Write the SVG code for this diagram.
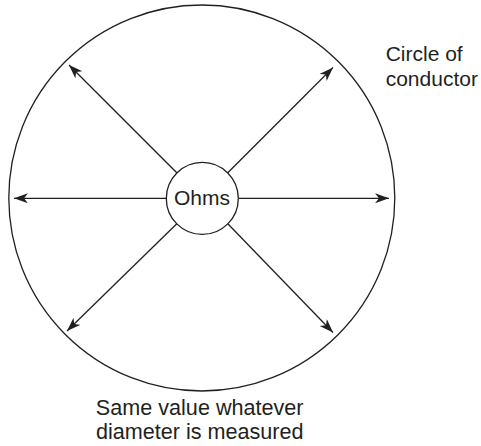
<svg xmlns="http://www.w3.org/2000/svg" width="481" height="446" viewBox="0 0 481 446">
<style>
.ln{stroke:#231f20;stroke-width:1.3;fill:none}
.t{font-family:"Liberation Sans",Arial,sans-serif;fill:#231f20}
</style>
<defs>
<marker id="ah" markerUnits="userSpaceOnUse" markerWidth="16" markerHeight="12" refX="14" refY="5" orient="auto">
<path d="M0,0 L14,5 L0,10 L4,5 z" fill="#231f20"/>
</marker>
</defs>
<rect width="481" height="446" fill="#fff"/>
<g id="conductor">
<circle class="ln" cx="201.8" cy="198" r="193"/>
</g>
<g id="connectors">
<line class="ln" x1="166" y1="198.3" x2="14" y2="198.3" marker-end="url(#ah)"/>
<line class="ln" x1="238.5" y1="198.3" x2="389" y2="198.3" marker-end="url(#ah)"/>
<line class="ln" x1="176.8" y1="172.8" x2="69" y2="65" marker-end="url(#ah)"/>
<line class="ln" x1="227.8" y1="172.8" x2="333" y2="67.5" marker-end="url(#ah)"/>
<line class="ln" x1="176.8" y1="223.8" x2="67" y2="331" marker-end="url(#ah)"/>
<line class="ln" x1="227.8" y1="223.8" x2="333" y2="332.5" marker-end="url(#ah)"/>
</g>
<g id="ohms">
<circle class="ln" cx="202.3" cy="198.4" r="36" fill="#fff"/>
<text class="t" x="202" y="205" font-size="21" text-anchor="middle">Ohms</text>
</g>
<g id="label-circle">
<text class="t" x="385.7" y="61" font-size="21">Circle of</text>
<text class="t" x="385.7" y="86" font-size="21">conductor</text>
</g>
<g id="label-bottom">
<text class="t" x="199.7" y="415" font-size="21.6" text-anchor="middle">Same value whatever</text>
<text class="t" x="199.7" y="439.3" font-size="21.6" text-anchor="middle">diameter is measured</text>
</g>
</svg>
